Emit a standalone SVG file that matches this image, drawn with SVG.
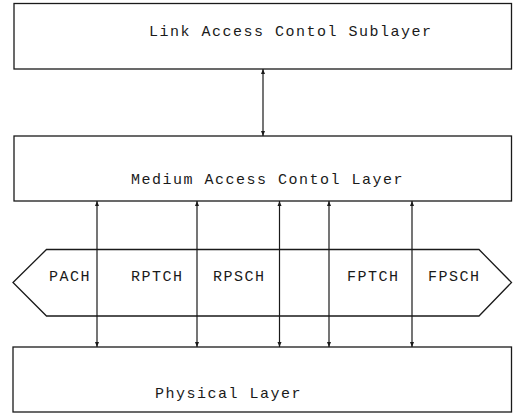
<svg xmlns="http://www.w3.org/2000/svg" width="513" height="415" viewBox="0 0 513 415">
<style>
.box{fill:#fff;stroke:#1a1a1a;stroke-width:1.3}
.lbl{font-family:"Liberation Mono","DejaVu Sans Mono",monospace;font-size:15px;letter-spacing:1.5px;fill:#1a1a1a}
.conn{stroke:#1a1a1a;stroke-width:1.2;fill:none;marker-start:url(#ah);marker-end:url(#ah)}
</style>
<defs>
<marker id="ah" viewBox="0 0 10 10" refX="10" refY="5" markerWidth="5" markerHeight="5" orient="auto-start-reverse" markerUnits="userSpaceOnUse">
<path d="M0,1 L10,5 L0,9 z" fill="#1a1a1a"/>
</marker>
</defs>
<rect width="513" height="415" fill="#fff"/>
<g id="lacs">
<rect class="box" x="14" y="3.5" width="497.5" height="65.5"/>
<text class="lbl" x="149" y="36">Link Access Contol Sublayer</text>
</g>
<g id="mac">
<rect class="box" x="14" y="136" width="497.5" height="65"/>
<text class="lbl" x="131" y="184">Medium Access Contol Layer</text>
</g>
<g id="channels">
<polygon class="box" points="13,282.5 46.5,249.5 479,249.5 511.5,282.5 479,316 46.5,316"/>
<text class="lbl" x="49" y="281">PACH</text>
<text class="lbl" x="131" y="281">RPTCH</text>
<text class="lbl" x="213" y="281">RPSCH</text>
<text class="lbl" x="347" y="281">FPTCH</text>
<text class="lbl" x="428" y="281">FPSCH</text>
</g>
<g id="phy">
<rect class="box" x="13" y="347" width="498.5" height="65"/>
<text class="lbl" x="155" y="398">Physical Layer</text>
</g>
<g id="connectors">
<line class="conn" x1="263" y1="69" x2="263" y2="136"/>
<line class="conn" x1="97" y1="201" x2="97" y2="347"/>
<line class="conn" x1="197" y1="201" x2="197" y2="347"/>
<line class="conn" x1="279.5" y1="201" x2="279.5" y2="347"/>
<line class="conn" x1="329" y1="201" x2="329" y2="347"/>
<line class="conn" x1="412" y1="201" x2="412" y2="347"/>
</g>
</svg>
